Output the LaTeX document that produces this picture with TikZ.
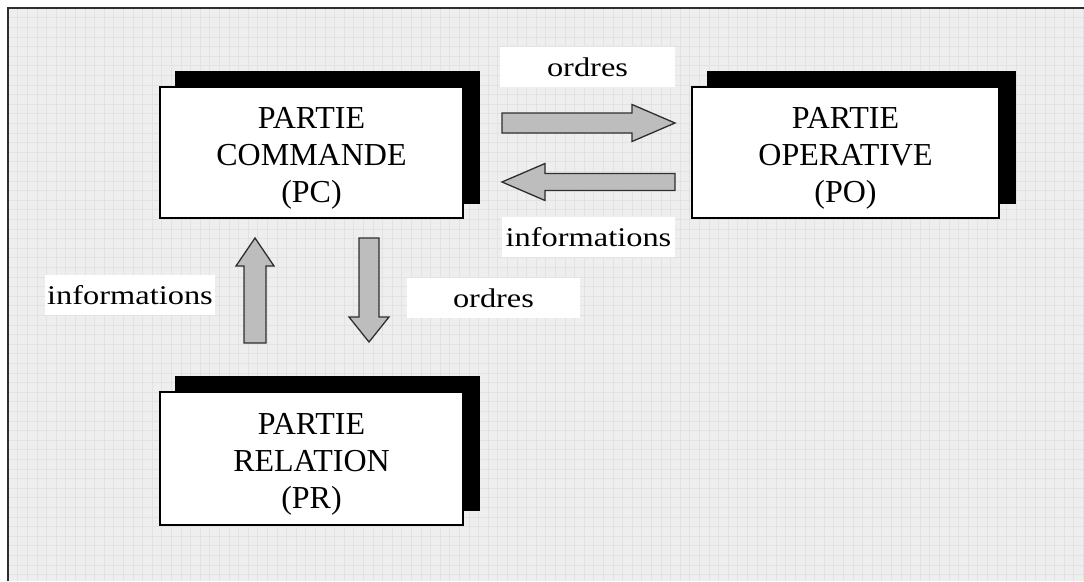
\documentclass[tikz,border=0pt]{standalone}
\usepackage{fontspec}
\setmainfont{Liberation Serif}
\newfontfamily\lblfont[FakeStretch=1.2]{Liberation Serif}
\usetikzlibrary{calc,shadows}

\definecolor{paper}{HTML}{EEEEEE}
\definecolor{gridline}{HTML}{E2E2E2}
\definecolor{arrowgray}{HTML}{BDBDBD}
\definecolor{framegray}{HTML}{2E2E2E}

% a tall invisible strut that lowers the first line of a box's text
\newcommand\firstline{\rule{0pt}{32pt}}

\tikzset{
  partbox/.style={draw=black, line width=1.1pt, fill=white,
    minimum width=#1, minimum height=131pt, inner sep=0pt,
    align=center, font=\fontsize{32}{37}\selectfont,
    copy shadow={shadow xshift=16pt, shadow yshift=15pt, fill=black, draw=black}},
  partbox/.default=303pt,
  tag/.style={fill=white, draw=none, minimum width=#1, minimum height=40pt,
    inner sep=0pt, font=\lblfont\fontsize{27}{30}\selectfont},
  tag/.default=174pt,
  arrowbody/.style={draw=framegray, line width=1.3pt, fill=arrowgray, line join=miter}
}

% block arrow: #1 tail, #2 tip, #3 half shaft width, #4 half head width, #5 head length
\newcommand\blockarrow[5]{%
  \coordinate (#1-#2-hb) at ($(#2)!#5!(#1)$);
  \draw[arrowbody]
    ($(#1)!#3!90:(#2)$) --
    ($(#1-#2-hb)!#3!-90:(#1)$) --
    ($(#1-#2-hb)!#4!-90:(#1)$) --
    (#2) --
    ($(#1-#2-hb)!#4!90:(#1)$) --
    ($(#1-#2-hb)!#3!90:(#1)$) --
    ($(#1)!#3!-90:(#2)$) -- cycle;
}

\begin{document}
\begin{tikzpicture}[x=1pt, y=-1pt]
  \useasboundingbox (0,0) rectangle (1084,581);
  \fill[white] (0,0) rectangle (1084,581);

  % squared paper inside the frame
  \fill[paper] (8,8) rectangle (1084,581);
  \begin{scope}
    \clip (8,8) rectangle (1084,581);
    \foreach \i in {0,...,113} {
      \draw[gridline, line width=0.6pt] (8+9.6*\i,8) -- (8+9.6*\i,581);
    }
    \foreach \j in {0,...,60} {
      \draw[gridline, line width=0.6pt] (8,8+9.6*\j) -- (1084,8+9.6*\j);
    }
  \end{scope}
  \draw[framegray, line width=2pt] (8,581) -- (8,8) -- (1084,8);

  % the three parts of the system
  \node[partbox] (pc) at (311.5,152.5) {\firstline PARTIE\\COMMANDE\\(PC)};
  \node[partbox=307pt] (po) at (845.5,152.5) {\firstline PARTIE\\OPERATIVE\\(PO)};
  \node[partbox, minimum height=133pt] (pr) at (311.5,458.5) {\firstline PARTIE\\RELATION\\(PR)};

  % labels of the exchanges
  \node[tag=175pt] (ordresPO) at (587.5,67) {ordres};
  \node[tag=173pt] (infoPO) at (588.5,237) {informations};
  \node[tag=170pt] (infoPR) at (130,295) {informations};
  \node[tag=173pt] (ordresPR) at (493.5,298) {ordres};

  % arrow ends
  \coordinate (oA) at (502,123);
  \coordinate (oB) at (675,123);
  \coordinate (iA) at (675,182);
  \coordinate (iB) at (502,182);
  \coordinate (uA) at (255,343);
  \coordinate (uB) at (255,238);
  \coordinate (dA) at (369,238);
  \coordinate (dB) at (369,342);

  \blockarrow{oA}{oB}{10pt}{18.5pt}{43pt}
  \blockarrow{iA}{iB}{8.5pt}{18.5pt}{43pt}
  \blockarrow{uA}{uB}{11pt}{19pt}{28pt}
  \blockarrow{dA}{dB}{10pt}{20pt}{25pt}
\end{tikzpicture}
\end{document}
